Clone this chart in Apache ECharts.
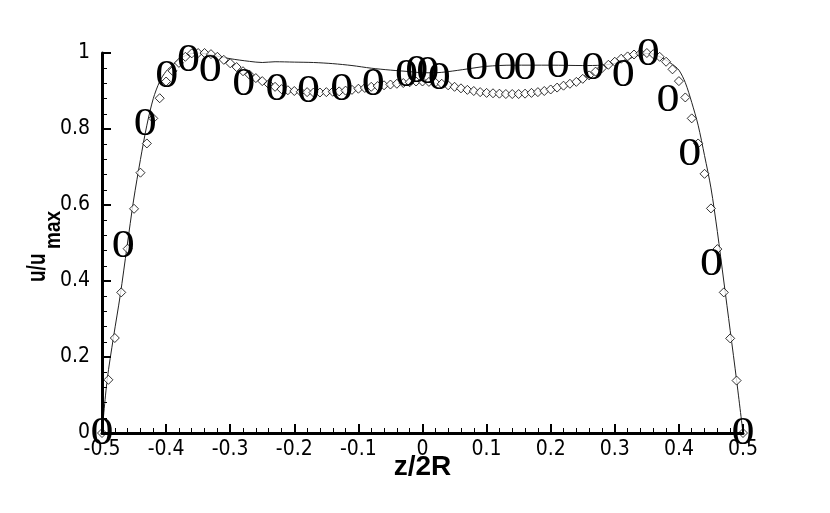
<!DOCTYPE html>
<html>
<head>
<meta charset="utf-8">
<script src="https://cdn.jsdelivr.net/npm/echarts@6/dist/echarts.min.js"></script>
<style>html,body{margin:0;padding:0;background:#fff}#c{width:830px;height:513px}</style>
</head>
<body>
<div id="c"></div>
<script>
// Tick labels
var xTickLabels = ['-0.5','-0.4','-0.3','-0.2','-0.1','0','0.1','0.2','0.3','0.4','0.5'];
var yTickLabels = ['0','0.2','0.4','0.6','0.8','1'];

// Solid line (simulation)
var lineData = [
  [-0.5,0],[-0.492,0.139],[-0.482,0.253],[-0.4715,0.363],[-0.461,0.49],[-0.4507,0.613],
  [-0.44,0.72],[-0.43,0.81],[-0.42,0.88],[-0.41,0.925],[-0.40,0.952],[-0.39,0.968],
  [-0.38,0.983],[-0.37,0.993],[-0.36,0.999],[-0.35,1.0],[-0.33,0.995],[-0.30,0.985],
  [-0.27,0.978],[-0.25,0.975],[-0.23,0.977],[-0.20,0.976],[-0.17,0.975],[-0.14,0.972],
  [-0.11,0.967],[-0.08,0.96],[-0.05,0.955],[-0.02,0.951],[0.0,0.948],[0.02,0.948],
  [0.04,0.951],[0.07,0.958],[0.10,0.965],[0.14,0.968],[0.20,0.968],[0.25,0.967],
  [0.28,0.968],[0.31,0.976],[0.33,0.99],[0.35,0.999],[0.36,0.997],[0.375,0.986],
  [0.39,0.97],[0.40,0.955],[0.41,0.922],[0.42,0.87],[0.43,0.81],[0.44,0.73],
  [0.45,0.645],[0.46,0.53],[0.47,0.40],[0.48,0.27],[0.49,0.139],[0.5,0]
];

// Diamond markers
var diamondData = [
  [-0.50,0],[-0.49,0.14],[-0.48,0.25],[-0.47,0.37],[-0.46,0.485],[-0.45,0.59],
  [-0.44,0.685],[-0.43,0.762],[-0.42,0.828],[-0.41,0.881],[-0.40,0.925],[-0.39,0.953],
  [-0.38,0.974],[-0.37,0.99],[-0.36,0.999],[-0.35,1.0],[-0.34,1.0],[-0.33,0.997],
  [-0.32,0.99],[-0.31,0.982],[-0.30,0.973],[-0.29,0.963],[-0.28,0.952],[-0.27,0.943],
  [-0.26,0.934],[-0.25,0.926],[-0.24,0.918],[-0.23,0.911],[-0.22,0.905],[-0.21,0.902],
  [-0.20,0.9],[-0.19,0.898],[-0.18,0.897],[-0.17,0.896],[-0.16,0.896],[-0.15,0.897],
  [-0.14,0.898],[-0.13,0.899],[-0.12,0.901],[-0.11,0.903],[-0.10,0.906],[-0.09,0.908],
  [-0.08,0.911],[-0.07,0.913],[-0.06,0.915],[-0.05,0.917],[-0.04,0.919],[-0.03,0.921],
  [-0.02,0.923],[-0.01,0.925],[0.00,0.925],[0.01,0.924],[0.02,0.922],[0.03,0.919],
  [0.04,0.915],[0.05,0.911],[0.06,0.907],[0.07,0.903],[0.08,0.9],[0.09,0.897],
  [0.10,0.895],[0.11,0.894],[0.12,0.893],[0.13,0.892],[0.14,0.892],[0.15,0.892],
  [0.16,0.893],[0.17,0.895],[0.18,0.897],[0.19,0.9],[0.20,0.904],[0.21,0.909],
  [0.22,0.914],[0.23,0.919],[0.24,0.924],[0.25,0.932],[0.26,0.941],[0.27,0.951],
  [0.28,0.96],[0.29,0.969],[0.30,0.977],[0.31,0.985],[0.32,0.991],[0.33,0.996],
  [0.34,0.999],[0.35,1.0],[0.36,0.997],[0.37,0.99],[0.38,0.977],[0.39,0.957],
  [0.40,0.926],[0.41,0.883],[0.42,0.828],[0.43,0.762],[0.44,0.682],[0.45,0.591],
  [0.46,0.484],[0.47,0.37],[0.48,0.249],[0.49,0.138],[0.50,0]
];

// "0" symbol markers (experiment)
var zeroData = [
  [-0.5,0],[-0.467,0.49],[-0.4325,0.813],[-0.399,0.938],[-0.365,0.98],[-0.331,0.953],
  [-0.279,0.916],[-0.227,0.903],[-0.178,0.898],[-0.126,0.903],[-0.077,0.916],
  [-0.025,0.942],[-0.009,0.951],[0.008,0.948],[0.026,0.933],[0.0845,0.96],
  [0.1286,0.96],[0.160,0.96],[0.2117,0.964],[0.266,0.96],[0.313,0.942],
  [0.352,0.995],[0.383,0.876],[0.417,0.734],[0.4507,0.444],[0.5,0]
];

var chart = echarts.init(document.getElementById('c'));
var sans = "'Liberation Sans', Arial, sans-serif";
var narrow = "'Liberation Sans Narrow', 'Arial Narrow', 'DejaVu Sans Condensed', sans-serif";
var serif = "'Liberation Serif', 'Times New Roman', serif";
chart.setOption({
  animation: false,
  backgroundColor: '#fff',
  grid: {left: 102, right: 87, top: 53, bottom: 80, containLabel: false},
  graphic: [
    {type: 'text', x: 38, y: 282, rotation: Math.PI / 2, scaleY: 1.35,
     style: {text: 'u/u', fontSize: 19, fontWeight: 'bold', fontFamily: sans, fill: '#000', align: 'left', verticalAlign: 'middle'}},
    {type: 'text', x: 54, y: 249, rotation: Math.PI / 2, scaleY: 1.15,
     style: {text: 'max', fontSize: 19, fontWeight: 'bold', fontFamily: sans, fill: '#000', align: 'left', verticalAlign: 'middle'}}
  ],
  xAxis: {
    type: 'value', min: -0.5, max: 0.5, interval: 0.1, z: 5,
    name: 'z/2R', nameLocation: 'middle', nameGap: 20, nameMoveOverlap: false,
    nameTextStyle: {fontFamily: sans, fontSize: 28, fontWeight: 'bold', color: '#000'},
    axisLine: {show: true, onZero: false, lineStyle: {color: '#000', width: 3}},
    axisTick: {show: true, inside: true, length: 9, lineStyle: {color: '#000', width: 2}},
    minorTick: {show: true, splitNumber: 5, length: 5, lineStyle: {color: '#000', width: 1}},
    splitLine: {show: false},
    axisLabel: {
      margin: 6, color: '#000', fontFamily: narrow, fontSize: 21,
      formatter: function (v) { return xTickLabels[Math.round((v + 0.5) * 10)]; }
    }
  },
  yAxis: {
    type: 'value', min: 0, max: 1, interval: 0.2, z: 5,
    axisLine: {show: true, onZero: false, lineStyle: {color: '#000', width: 3}},
    axisTick: {show: true, inside: true, length: 9, lineStyle: {color: '#000', width: 2}},
    minorTick: {show: true, splitNumber: 5, length: 5, lineStyle: {color: '#000', width: 1}},
    splitLine: {show: false},
    axisLabel: {
      margin: 12, color: '#000', fontFamily: narrow, fontSize: 21,
      formatter: function (v) { return yTickLabels[Math.round(v * 5)]; }
    }
  },
  series: [
    {
      type: 'line', data: lineData, showSymbol: false, symbol: 'none', smooth: 0.3,
      lineStyle: {color: '#222', width: 1}, z: 2
    },
    {
      type: 'scatter', data: diamondData, symbol: 'diamond', symbolSize: 9,
      itemStyle: {color: '#fff', borderColor: '#000', borderWidth: 1}, z: 3
    },
    {
      type: 'custom', data: zeroData, z: 4,
      encode: {x: 0, y: 1},
      renderItem: function (params, api) {
        var p = api.coord([api.value(0), api.value(1)]);
        return {
          type: 'text', x: p[0], y: p[1], scaleX: 1.15,
          style: {text: '0', fontSize: 40, fontFamily: serif, fill: '#000', align: 'center', verticalAlign: 'middle'}
        };
      }
    }
  ]
});
</script>
</body>
</html>
